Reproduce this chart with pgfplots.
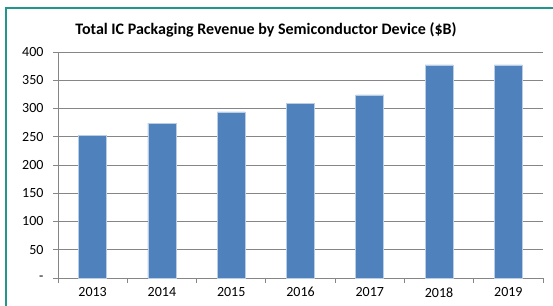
\documentclass[border=0pt]{standalone}
\usepackage{pgfplots}
\pgfplotsset{compat=1.18}
\usepackage{fontspec}
\setmainfont{Carlito}
\definecolor{barblue}{RGB}{79,129,189}
\definecolor{baredge}{RGB}{185,205,229}
\definecolor{gridgray}{RGB}{134,134,134}
\definecolor{frameteal}{RGB}{32,150,140}
\begin{document}
\begin{tikzpicture}[x=1pt,y=1pt]
\useasboundingbox (0,0) rectangle (553,305);
\draw[frameteal, line width=2pt] (6,-10) -- (6,297) -- (563,297);
\node[font=\bfseries\fontsize{16}{18}\selectfont, anchor=center] at (266,275) {Total IC Packaging Revenue by Semiconductor Device (\$B)};
\begin{axis}[
  at={(58pt,27pt)}, anchor=south west,
  scale only axis, width=485pt, height=226pt,
  xmin=-0.5, xmax=6.5, ymin=0, ymax=400,
  ytick={0,50,...,400},
  yticklabels={-,50,100,150,200,250,300,350,400},
  xtick={-0.5,0.5,...,6.5},
  xticklabels={},
  extra x ticks={0,...,6},
  extra x tick labels={2013,2014,2015,2016,2017,2018,2019},
  extra x tick style={major tick length=0pt, grid=none},
  major tick length=5pt,
  tick align=outside,
  ymajorgrids, grid style={gridgray, line width=1pt},
  axis x line*=bottom, axis y line*=left,
  axis line style={gridgray, line width=1pt, -},
  tick style={gridgray, line width=1pt},
  yticklabel style={font=\fontsize{14}{16}\selectfont, xshift=-6pt},
  xticklabel style={font=\fontsize{14}{16}\selectfont, yshift=-6pt},
  /pgf/number format/assume math mode=true,
]
\addplot[ybar, bar width=28pt, fill=barblue, draw=baredge, line width=0.6pt] coordinates {
(0,252) (1,274) (2,294) (3,309) (4,324) (5,377) (6,377)
};
\end{axis}
\end{tikzpicture}
\end{document}
